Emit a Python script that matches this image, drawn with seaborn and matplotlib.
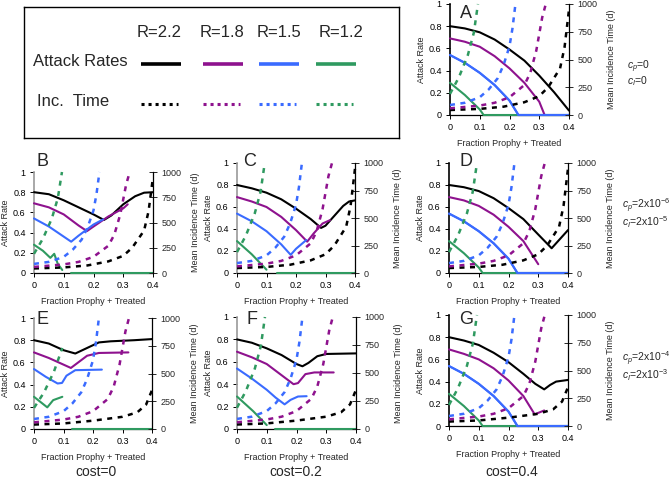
import matplotlib
matplotlib.use('Agg')
import matplotlib.pyplot as plt
import seaborn as sns
from matplotlib.ticker import FormatStrFormatter

sns.set_style('white')
plt.rcParams['font.family'] = ['Liberation Sans', 'DejaVu Sans']
plt.rcParams['mathtext.fontset'] = 'custom'
plt.rcParams['mathtext.rm'] = 'Liberation Sans'
plt.rcParams['mathtext.it'] = 'Liberation Sans:italic'

BLACK = 'black'
PURPLE = '#8e128e'
BLUE = '#3a6bff'
GREEN = '#2f9a60'

R_labels = ['R=2.2', 'R=1.8', 'R=1.5', 'R=1.2']
cost_labels = ['cost=0', 'cost=0.2', 'cost=0.4']
row_params = [(r'$c_p$=0', r'$c_I$=0'),
              (r'$c_p$=2x10$^{-6}$', r'$c_I$=2x10$^{-5}$'),
              (r'$c_p$=2x10$^{-4}$', r'$c_I$=2x10$^{-3}$')]

# mean incidence time (days), dashed curves
inc_green_x = [0, 0.03, 0.06, 0.08, 0.094]
inc_green_y = [190, 340, 540, 740, 1000]
inc_green_E_x = [0, 0.034, 0.068, 0.096]
inc_green_E_y = [190, 330, 520, 730]
inc_blue_x = [0, 0.05, 0.1, 0.13, 0.16, 0.18, 0.2, 0.21, 0.22]
inc_blue_y = [90, 110, 160, 230, 330, 450, 620, 780, 1000]
inc_purple_x = [0, 0.1, 0.15, 0.2, 0.25, 0.27, 0.29, 0.31, 0.322]
inc_purple_y = [60, 85, 110, 160, 270, 380, 580, 880, 1000]
inc_black_x = [0, 0.1, 0.18, 0.25, 0.3, 0.33, 0.37, 0.385, 0.393, 0.4]
inc_black_y = [45, 55, 75, 115, 170, 250, 420, 610, 790, 950]
inc_black_short_x = [0, 0.1, 0.2, 0.3, 0.35, 0.38, 0.4]
inc_black_short_y = [40, 50, 75, 110, 150, 220, 350]

# attack rates, solid curves
A_black_x = [0, 0.05, 0.1, 0.15, 0.2, 0.25, 0.3, 0.35, 0.4]
A_black_y = [0.80, 0.78, 0.745, 0.68, 0.59, 0.49, 0.355, 0.205, 0.04]
A_purple_x = [0, 0.05, 0.1, 0.15, 0.2, 0.25, 0.3, 0.318]
A_purple_y = [0.69, 0.66, 0.615, 0.53, 0.42, 0.29, 0.12, 0.0]
A_blue_x = [0, 0.05, 0.1, 0.15, 0.2, 0.23, 0.4]
A_blue_y = [0.54, 0.47, 0.38, 0.27, 0.13, 0.0, 0.0]
A_green_x = [0, 0.05, 0.1, 0.113]
A_green_y = [0.29, 0.18, 0.05, 0.0]
A_green0 = [0.113, 0.4]

B_black_x = [0, 0.05, 0.1, 0.15, 0.2, 0.235, 0.26, 0.3, 0.34, 0.37, 0.4]
B_black_y = [0.80, 0.78, 0.72, 0.65, 0.58, 0.525, 0.57, 0.68, 0.76, 0.795, 0.80]
B_purple_x = [0, 0.05, 0.1, 0.15, 0.178, 0.2, 0.25, 0.3, 0.315]
B_purple_y = [0.69, 0.65, 0.58, 0.47, 0.415, 0.46, 0.56, 0.64, 0.68]
B_blue_x = [0, 0.05, 0.1, 0.125, 0.15, 0.2, 0.232]
B_blue_y = [0.54, 0.46, 0.36, 0.31, 0.37, 0.48, 0.53]
B_green_x = [0, 0.03, 0.055, 0.068, 0.08, 0.095]
B_green_y = [0.28, 0.22, 0.15, 0.19, 0.09, 0.03]
B_green0 = [0.126, 0.4]

C_black_x = [0, 0.05, 0.1, 0.15, 0.2, 0.25, 0.285, 0.3, 0.33, 0.36, 0.38, 0.4]
C_black_y = [0.80, 0.77, 0.73, 0.67, 0.585, 0.49, 0.41, 0.43, 0.52, 0.61, 0.65, 0.66]
C_purple_x = [0, 0.05, 0.1, 0.15, 0.2, 0.238, 0.26, 0.29, 0.315]
C_purple_y = [0.69, 0.65, 0.60, 0.51, 0.39, 0.285, 0.36, 0.45, 0.48]
C_blue_x = [0, 0.05, 0.1, 0.15, 0.182, 0.2, 0.235]
C_blue_y = [0.54, 0.47, 0.38, 0.26, 0.165, 0.22, 0.30]
C_green_x = [0, 0.05, 0.1]
C_green_y = [0.29, 0.17, 0.03]
C_green0 = [0.134, 0.4]

D_black_x = [0, 0.05, 0.1, 0.15, 0.2, 0.25, 0.3, 0.345, 0.37, 0.4]
D_black_y = [0.80, 0.78, 0.745, 0.68, 0.59, 0.49, 0.35, 0.225, 0.30, 0.39]
D_purple_x = [0, 0.05, 0.1, 0.15, 0.2, 0.25, 0.3]
D_purple_y = [0.69, 0.66, 0.61, 0.53, 0.42, 0.29, 0.08]

E_black_x = [0, 0.05, 0.1, 0.14, 0.18, 0.22, 0.26, 0.34, 0.4]
E_black_y = [0.80, 0.77, 0.71, 0.68, 0.73, 0.78, 0.79, 0.80, 0.81]
E_purple_x = [0, 0.05, 0.1, 0.125, 0.15, 0.18, 0.22, 0.32]
E_purple_y = [0.69, 0.64, 0.58, 0.55, 0.60, 0.66, 0.685, 0.69]
E_blue_x = [0, 0.04, 0.08, 0.095, 0.11, 0.14, 0.23]
E_blue_y = [0.54, 0.47, 0.41, 0.415, 0.48, 0.53, 0.535]
E_green_x = [0, 0.045, 0.065, 0.096]
E_green_y = [0.29, 0.195, 0.26, 0.29]
E_green0 = [0.13, 0.4]

F_black_x = [0, 0.05, 0.1, 0.15, 0.2, 0.22, 0.24, 0.27, 0.3, 0.4]
F_black_y = [0.80, 0.77, 0.72, 0.66, 0.58, 0.56, 0.59, 0.65, 0.67, 0.675]
F_purple_x = [0, 0.05, 0.1, 0.15, 0.19, 0.205, 0.23, 0.26, 0.325]
F_purple_y = [0.69, 0.64, 0.58, 0.48, 0.40, 0.41, 0.49, 0.505, 0.505]
F_blue_x = [0, 0.05, 0.1, 0.13, 0.16, 0.18, 0.205, 0.234]
F_blue_y = [0.54, 0.45, 0.35, 0.28, 0.22, 0.26, 0.29, 0.293]
F_green_x = [0, 0.054, 0.1]
F_green_y = [0.29, 0.16, 0.035]
F_green0 = [0.127, 0.4]

G_black_x = [0, 0.05, 0.1, 0.15, 0.2, 0.25, 0.29, 0.32, 0.34, 0.36, 0.4]
G_black_y = [0.80, 0.77, 0.73, 0.66, 0.575, 0.47, 0.38, 0.33, 0.37, 0.40, 0.415]
G_purple_x = [0, 0.05, 0.1, 0.15, 0.2, 0.25, 0.288, 0.32]
G_purple_y = [0.69, 0.65, 0.60, 0.52, 0.41, 0.27, 0.105, 0.14]

W, H = 669, 479
fig = plt.figure(figsize=(W / 100, H / 100), dpi=100)


def rect(l, r, t, b):
    return [l / W, 1 - b / H, (r - l) / W, (b - t) / H]


DASH = (0, (2.0, 2.2))


def panel(box, letter, lpos, solids, green0, blue0, inc_black, inc_green, spine_col):
    ax = fig.add_axes(rect(*box))
    ax2 = ax.twinx()
    # green zero line first, so blue zero lies above it
    sns.lineplot(x=green0, y=[0, 0], ax=ax, color=GREEN, lw=1.5, sort=False,
                 estimator=None, clip_on=False, zorder=3)
    for (xs, ys), col in zip(solids, [BLACK, PURPLE, BLUE, GREEN]):
        sns.lineplot(x=xs, y=ys, ax=ax, color=col, lw=1.5, sort=False,
                     estimator=None, clip_on=False, zorder=4)
    if blue0:
        sns.lineplot(x=A_blue_x, y=A_blue_y, ax=ax, color=BLUE, lw=1.5, sort=False,
                     estimator=None, clip_on=False, zorder=4)
    dashed = [(inc_black, BLACK), ((inc_purple_x, inc_purple_y), PURPLE),
              ((inc_blue_x, inc_blue_y), BLUE), (inc_green, GREEN)]
    for (xs, ys), col in dashed:
        sns.lineplot(x=xs, y=ys, ax=ax2, color=col, lw=1.8, linestyle=DASH,
                     sort=False, estimator=None, clip_on=False)

    ax.set_xlim(0, 0.4)
    ax.set_ylim(0, 1)
    ax2.set_ylim(0, 1000)
    ax.set_xticks([0, 0.1, 0.2, 0.3, 0.4])
    ax.set_yticks([0, 0.2, 0.4, 0.6, 0.8, 1])
    ax2.set_yticks([0, 250, 500, 750, 1000])
    ax.xaxis.set_major_formatter(FormatStrFormatter('%g'))
    ax.yaxis.set_major_formatter(FormatStrFormatter('%g'))
    for a in (ax, ax2):
        a.set_facecolor('none')
        a.spines['top'].set_visible(False)
    ax.spines['right'].set_visible(False)
    ax2.spines['left'].set_visible(False)
    ax2.spines['bottom'].set_visible(False)
    ax.spines['left'].set_color(spine_col)
    ax.spines['left'].set_linewidth(1.2)
    ax.spines['bottom'].set_color('black')
    ax.spines['bottom'].set_linewidth(0.9)
    ax2.spines['right'].set_color('black')
    ax2.spines['right'].set_linewidth(0.9)
    ax.tick_params(axis='both', direction='out', length=3, width=0.7,
                   labelsize=6.5, pad=3, left=True, bottom=True, colors='black')
    ax2.tick_params(axis='y', direction='inout', length=6, width=0.7,
                    labelsize=6.5, pad=3, right=True)
    ax.set_xlabel('Fraction Prophy + Treated', fontsize=6.5, labelpad=5)
    ax.set_ylabel('Attack Rate', fontsize=6.5, labelpad=2)
    ax2.set_ylabel('Mean Incidence Time (d)', fontsize=6.5, labelpad=7)
    fig.text(lpos[0] / W, 1 - lpos[1] / H, letter, fontsize=13,
             ha='center', va='baseline')
    return ax


panel((450, 569, 4, 115), 'A', (466, 18),
      [(A_black_x, A_black_y), (A_purple_x, A_purple_y), (A_blue_x, A_blue_y), (A_green_x, A_green_y)],
      A_green0, True, (inc_black_x, inc_black_y), (inc_green_x, inc_green_y), 'black')
panel((34, 153, 172, 273), 'B', (43, 166),
      [(B_black_x, B_black_y), (B_purple_x, B_purple_y), (B_blue_x, B_blue_y), (B_green_x, B_green_y)],
      B_green0, False, (inc_black_x, inc_black_y), (inc_green_x, inc_green_y), '#9a9a9a')
panel((237, 355, 163, 273), 'C', (250, 166),
      [(C_black_x, C_black_y), (C_purple_x, C_purple_y), (C_blue_x, C_blue_y), (C_green_x, C_green_y)],
      C_green0, False, (inc_black_x, inc_black_y), (inc_green_x, inc_green_y), '#9a9a9a')
panel((449, 568, 163, 273), 'D', (466, 166),
      [(D_black_x, D_black_y), (D_purple_x, D_purple_y), (A_blue_x, A_blue_y), (A_green_x, A_green_y)],
      A_green0, True, (inc_black_x, inc_black_y), (inc_green_x, inc_green_y), 'black')
panel((34, 152, 318, 429), 'E', (43, 324),
      [(E_black_x, E_black_y), (E_purple_x, E_purple_y), (E_blue_x, E_blue_y), (E_green_x, E_green_y)],
      E_green0, False, (inc_black_short_x, inc_black_short_y), (inc_green_E_x, inc_green_E_y), '#9a9a9a')
panel((237, 356, 317, 429), 'F', (252, 324),
      [(F_black_x, F_black_y), (F_purple_x, F_purple_y), (F_blue_x, F_blue_y), (F_green_x, F_green_y)],
      F_green0, False, (inc_black_short_x, inc_black_short_y), (inc_green_x, inc_green_y), '#9a9a9a')
panel((449, 568, 315, 426), 'G', (466, 324),
      [(G_black_x, G_black_y), (G_purple_x, G_purple_y), (A_blue_x, A_blue_y), (A_green_x, A_green_y)],
      A_green0, True, (inc_black_short_x, inc_black_short_y), (inc_green_x, inc_green_y), 'black')

# parameter labels on the right, two lines each
for (cp, ci), (yc, x0) in zip(row_params, [(73, 627), (213, 622), (366, 622)]):
    fig.text(x0 / W, 1 - yc / H, cp + '\n' + ci, fontsize=7.5, ha='left', va='center',
             linespacing=0.95)

# cost labels under columns
for lab, xc in zip(cost_labels, [96, 296, 512]):
    fig.text(xc / W, 1 - 472 / H, lab, fontsize=10, ha='center', va='center')

# legend box
lax = fig.add_axes(rect(24, 399, 7, 138))
lax.set_xlim(24, 399)
lax.set_ylim(138, 7)
lax.set_xticks([])
lax.set_yticks([])
for s in lax.spines.values():
    s.set_visible(True)
    s.set_color('black')
    s.set_linewidth(1.0)
lax.text(33, 62, 'Attack Rates', fontsize=12, ha='left', va='center')
lax.text(37, 102, 'Inc.  Time', fontsize=12, ha='left', va='center')
for lab, xc, (x0, x1), col in zip(R_labels, [159, 222, 279, 341],
                                  [(141, 181), (203, 243), (259, 299), (316, 356)],
                                  [BLACK, PURPLE, BLUE, GREEN]):
    lax.text(xc, 33, lab, fontsize=12, ha='center', va='center')
    lax.plot([x0, x1], [64, 64], color=col, lw=2.6, solid_capstyle='butt')
    lax.plot([x0, x1 - 3], [104, 104], color=col, lw=2.2, linestyle=(0, (1, 1.3)))

fig.savefig('out.png', dpi=100)
